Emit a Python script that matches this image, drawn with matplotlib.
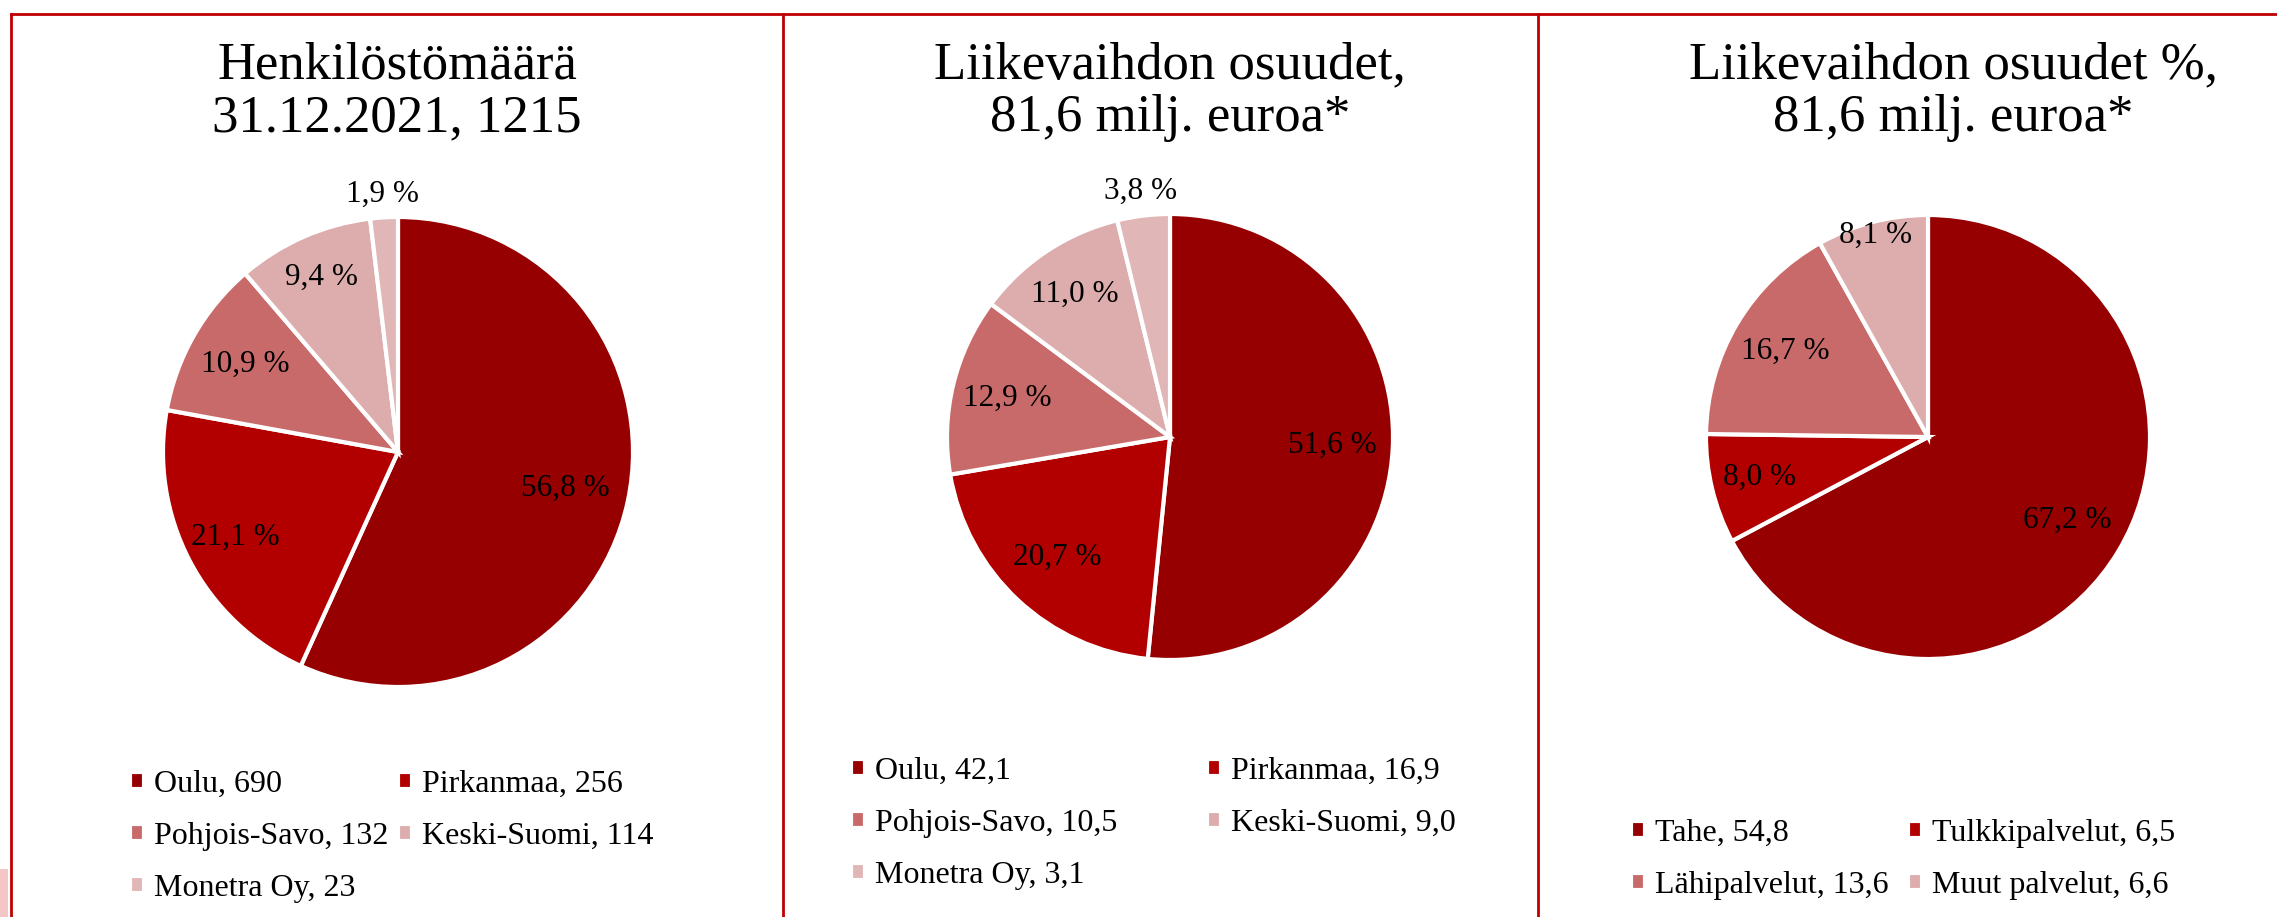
import numpy as np
import matplotlib.pyplot as plt
from matplotlib.lines import Line2D
from matplotlib.patches import Rectangle

# data
titles = ['Henkilöstömäärä\n31.12.2021, 1215',
          'Liikevaihdon osuudet,\n81,6 milj. euroa*',
          'Liikevaihdon osuudet %,\n81,6 milj. euroa*']

names_1 = ['Oulu', 'Pirkanmaa', 'Pohjois-Savo', 'Keski-Suomi', 'Monetra Oy']
staff = [690, 256, 132, 114, 23]

names_2 = ['Oulu', 'Pirkanmaa', 'Pohjois-Savo', 'Keski-Suomi', 'Monetra Oy']
revenue = [42.1, 16.9, 10.5, 9.0, 3.1]

names_3 = ['Tahe', 'Tulkkipalvelut', 'Lähipalvelut', 'Muut palvelut']
services = [54.8, 6.5, 13.6, 6.6]

cols5 = ['#960000', '#B20000', '#C96A6A', '#DDADAD', '#E0B6B6']
cols4 = ['#960000', '#B20000', '#C96A6A', '#DDADAD']

W, H = 2277, 917
fig = plt.figure(figsize=(W / 100, H / 100), dpi=100)
plt.rcParams['font.family'] = ['Liberation Serif', 'DejaVu Serif']

def fmt(v, ints=False):
    if ints:
        return str(v)
    return f'{v:.1f}'.replace('.', ',')

def panel(cx, cy, r, names, vals, cols, dists, ints, title, tx,
          leg_x, leg_y, colsp):
    ax = fig.add_axes([(cx - r) / W, (H - cy - r) / H, 2 * r / W, 2 * r / H])
    wedges, _ = ax.pie(vals, colors=cols, startangle=90, counterclock=False,
                       wedgeprops=dict(edgecolor='white', linewidth=3))
    ax.set_xlim(-1, 1)
    ax.set_ylim(-1, 1)
    ax.set_aspect('equal')
    tot = sum(vals)
    for w, v, d in zip(wedges, vals, dists):
        a = np.deg2rad((w.theta1 + w.theta2) / 2)
        ax.text(d * np.cos(a), d * np.sin(a), fmt(100 * v / tot) + ' %',
                ha='center', va='center', fontsize=22.5, color='black')
    fig.text(tx / W, 1 - 92 / H, title, ha='center', va='center',
             fontsize=38, linespacing=1.12)
    labels = [f'{n}, {fmt(v, ints)}' for n, v in zip(names, vals)]
    # legend is filled row by row in the original
    n = len(labels)
    order = list(range(0, n, 2)) + list(range(1, n, 2))
    ax.legend([wedges[i] for i in order], [labels[i] for i in order],
              ncol=2, loc='upper left',
              bbox_to_anchor=(leg_x / W, 1 - leg_y / H),
              bbox_transform=fig.transFigure, frameon=False, fontsize=23,
              handlelength=0.45, handleheight=0.45, handletextpad=0.3,
              labelspacing=0.72, columnspacing=colsp, borderpad=0,
              borderaxespad=0)
    return ax

panel(398, 452, 235, names_1, staff, cols5,
      [0.73, 0.78, 0.75, 0.81, 1.10], True, titles[0], 397, 130, 770, 0.3)
panel(1170, 437, 223, names_2, revenue, cols5,
      [0.73, 0.74, 0.75, 0.77, 1.11], False, titles[1], 1170, 851, 757, 2.8)
panel(1928, 437, 222, names_3, services, cols4,
      [0.73, 0.78, 0.75, 0.94], False, titles[2], 1953, 1631, 819, 0.6)

# red frame lines
red = '#C00000'
fig.add_artist(Line2D([11 / W, 1], [1 - 14 / H] * 2, color=red, lw=2))
for x in [11, 783, 1538]:
    fig.add_artist(Line2D([x / W] * 2, [0, 1 - 14 / H], color=red, lw=2))
fig.add_artist(Rectangle((0, 0), 8 / W, 48 / H, transform=fig.transFigure,
                         facecolor='#F4C6C6', edgecolor='none'))

fig.savefig('out.png', dpi=100, facecolor='white')
